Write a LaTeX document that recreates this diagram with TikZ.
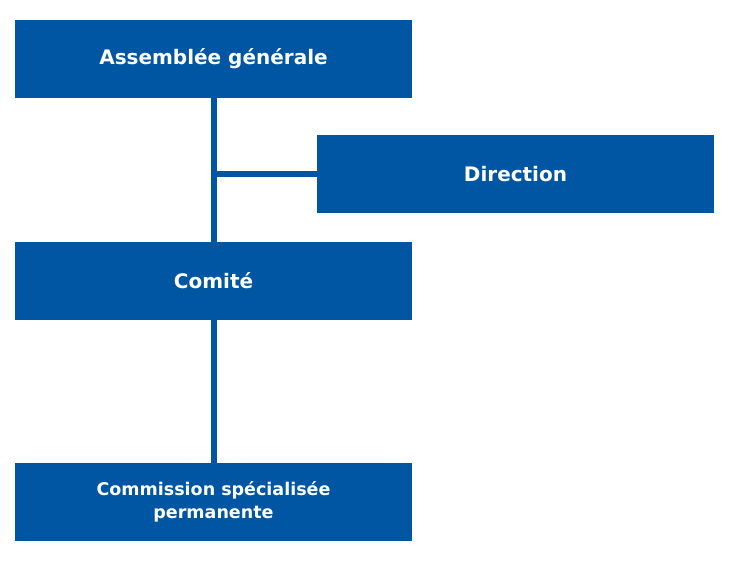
\documentclass[tikz,border=0pt]{standalone}
\usepackage{fontspec}
\setmainfont{DejaVu Sans}
\usetikzlibrary{positioning}
\definecolor{orgblue}{HTML}{0056A2}
\tikzset{
  box/.style={fill=orgblue, text=white, font=\bfseries\fontsize{20}{22}\selectfont,
    minimum width=397pt, minimum height=78pt, inner sep=0pt, align=center},
  link/.style={draw=orgblue, line width=6pt}
}
\begin{document}
\begin{tikzpicture}[x=1pt,y=-1pt]
  \useasboundingbox (0,0) rectangle (730,561);
  % boxes
  \node[box] (ag) at (213.5,59) {Assemblée générale};
  \node[box] (dir) at (515.5,174) {Direction};
  \node[box] (comite) at (213.5,281) {Comité};
  \node[box, font=\bfseries\fontsize{17.5}{23}\selectfont] (csp) at (213.5,502)
    {Commission spécialisée\\permanente};
  % links
  \coordinate (branch) at (ag.south |- dir.west);
  \draw[link] (ag.south) -- (comite.north);
  \draw[link] (comite.south) -- (csp.north);
  \draw[link] (branch) -- (dir.west);
\end{tikzpicture}
\end{document}
